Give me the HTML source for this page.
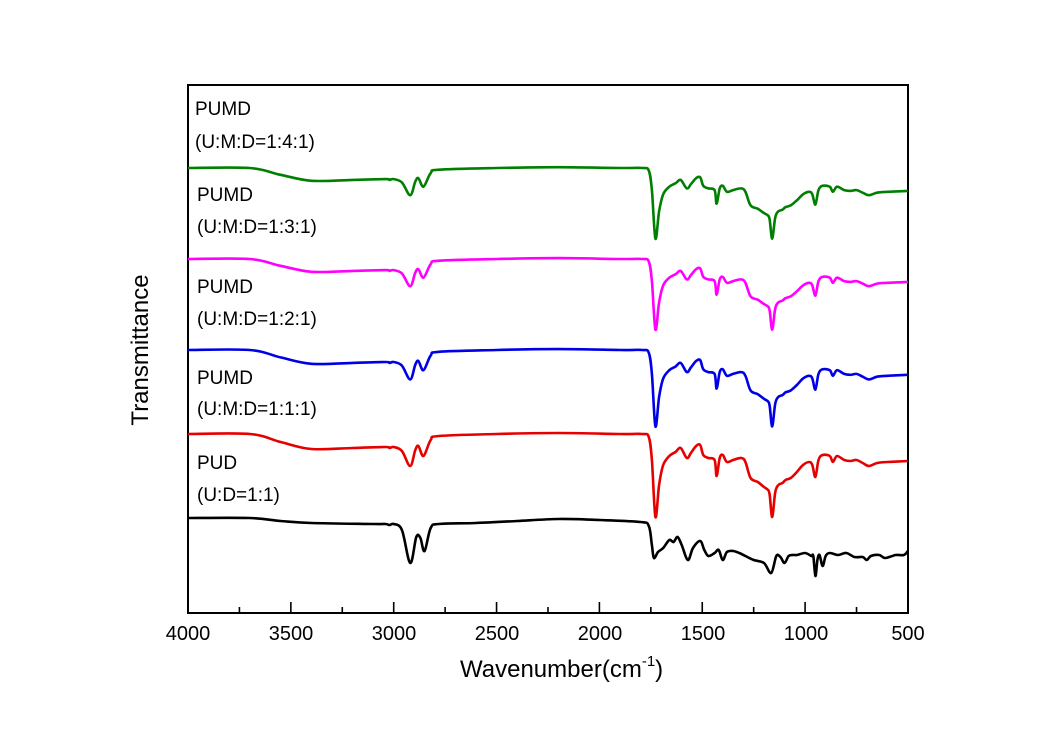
<!DOCTYPE html>
<html><head><meta charset="utf-8"><style>
body{margin:0;background:#fff}
svg{display:block}
text{font-family:"Liberation Sans",Arial,sans-serif;fill:#000}
</style></head><body>
<svg id="s" width="1055" height="736" viewBox="0 0 1055 736" xmlns="http://www.w3.org/2000/svg">
<rect x="188" y="85" width="720" height="528" fill="none" stroke="#000" stroke-width="2"/>
<g id="ticks" stroke="#000" stroke-width="1.6"></g>
<g font-size="20" text-anchor="middle">
<text x="188" y="640">4000</text><text x="291" y="640">3500</text><text x="394" y="640">3000</text><text x="497" y="640">2500</text><text x="600" y="640">2000</text><text x="703" y="640">1500</text><text x="806" y="640">1000</text><text x="908" y="640">500</text>
</g>
<text x="460" y="677" font-size="24">Wavenumber(cm<tspan dy="-11" font-size="15">-1</tspan><tspan dy="11">)</tspan></text>
<text transform="translate(148,350) rotate(-90)" font-size="24" text-anchor="middle">Transmittance</text>
<g font-size="19">
<text x="195" y="115">PUMD</text><text x="195" y="148">(U:M:D=1:4:1)</text>
<text x="197" y="201">PUMD</text><text x="197" y="233">(U:M:D=1:3:1)</text>
<text x="197" y="293">PUMD</text><text x="197" y="325">(U:M:D=1:2:1)</text>
<text x="197" y="384">PUMD</text><text x="197" y="415">(U:M:D=1:1:1)</text>
<text x="197" y="469">PUD</text><text x="197" y="501">(U:D=1:1)</text>
</g>
<g id="curves" fill="none" stroke-width="2.6" stroke-linejoin="round"></g>
</svg>
<script>
var NS="http://www.w3.org/2000/svg";
function X(w){return 188+(4000-w)*0.2057;}
var t=document.getElementById('ticks'),h='';
for(var w=4000;w>=500;w-=250){var x=X(w),L=(w%500==0)?11:6;h+='<line x1="'+x+'" y1="613" x2="'+x+'" y2="'+(613-L)+'"/>';}
t.innerHTML=h;
var black=[[4000,518],[3700,518],[3550,521],[3400,523],[3100,524],[3040,524],[3020,525],[3000,524],[2960,530],[2920,563],[2890,537],[2870,538],[2850,551],[2820,528],[2780,524],[2600,523],[2400,521],[2200,519],[2000,520],[1800,522],[1760,526],[1745,545],[1735,558],[1715,552],[1690,548],[1660,540],[1640,542],[1620,537],[1600,545],[1570,560],[1545,548],[1510,541],[1490,550],[1470,556],[1440,553],[1420,550],[1400,560],[1380,552],[1350,551],[1320,553],[1290,556],[1250,560],[1200,563],[1165,573],[1140,556],[1120,557],[1100,563],[1080,556],[1060,555],[1040,555],[1000,553],[970,556],[960,556],[950,576],[940,560],[930,555],[915,566],[900,556],[880,553],[840,555],[800,553],[760,557],[720,557],[700,560],[680,556],[640,555],[610,558],[560,555],[520,555],[500,551]];
var red=[[4000,434],[3700,434],[3550,442],[3400,449],[3200,448],[3040,447],[3020,448],[3000,447],[2960,451],[2920,466],[2895,450],[2880,446],[2855,456],[2820,440],[2780,436],[2500,434],[2200,433],[1900,434],[1790,434],[1760,437],[1745,460],[1728,517],[1710,485],[1690,465],[1660,456],[1630,452],[1605,448],[1575,458],[1555,453],[1530,446],[1510,445],[1495,455],[1470,458],[1440,460],[1430,476],[1415,458],[1400,455],[1380,462],[1350,460],[1310,458],[1290,462],[1265,478],[1230,482],[1200,487],[1180,490],[1172,495],[1160,517],[1145,492],[1130,485],[1110,483],[1095,480],[1070,478],[1040,472],[1010,465],[980,462],[965,465],[950,477],[935,460],[915,455],[880,456],[865,462],[845,456],[810,460],[780,461],[750,460],[720,463],[690,466],[650,463],[600,462],[500,461]];
function path(pts,dy,sc,col){
  var b=pts[0][1],P=pts.map(function(p){return [X(p[0]),dy+(p[1]-b)*sc];});
  var d='M'+P[0][0]+','+P[0][1];
  for(var i=0;i<P.length-1;i++){var p0=P[Math.max(0,i-1)],p1=P[i],p2=P[i+1],p3=P[Math.min(P.length-1,i+2)];
    var c1x=p1[0]+(p2[0]-p0[0])/6,c1y=p1[1]+(p2[1]-p0[1])/6,c2x=p2[0]-(p3[0]-p1[0])/6,c2y=p2[1]-(p3[1]-p1[1])/6;
    d+=' C'+c1x.toFixed(1)+','+c1y.toFixed(1)+' '+c2x.toFixed(1)+','+c2y.toFixed(1)+' '+p2[0].toFixed(1)+','+p2[1].toFixed(1);}
  var e=document.createElementNS(NS,'path');e.setAttribute('d',d);e.setAttribute('stroke',col);document.getElementById('curves').appendChild(e);
}
path(black,518,1,'#000');
path(red,434,1,'#e60000');
path(red,350,0.92,'#0000e6');
path(red,259,0.85,'#ff00ff');
path(red,168,0.85,'#007f00');
</script>
</body></html>
